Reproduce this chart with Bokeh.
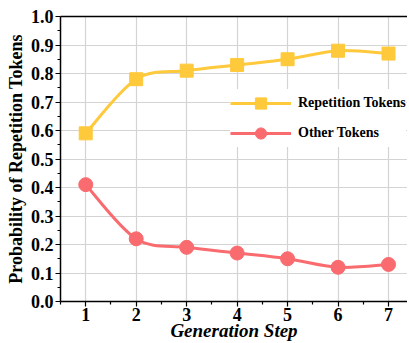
from bokeh.plotting import figure
from bokeh.models import Range1d, LinearAxis, FixedTicker, Legend, LegendItem, CustomJSTickFormatter
from bokeh.embed import file_html
from bokeh.resources import INLINE
import numpy as np

steps = [1, 2, 3, 4, 5, 6, 7]
repetition = [0.59, 0.78, 0.81, 0.83, 0.85, 0.88, 0.87]
other = [0.41, 0.22, 0.19, 0.17, 0.15, 0.12, 0.13]
y_ticks = [0.0, 0.1, 0.2, 0.3, 0.4, 0.5, 0.6, 0.7, 0.8, 0.9, 1.0]

YELLOW = "#FFC93C"
RED = "#F96B6E"
FONT = "Liberation Serif"

p = figure(width=407, height=343, output_backend="svg", toolbar_location=None,
           x_range=Range1d(0.5, 7.376), y_range=Range1d(0, 1.0),
           min_border_left=60, min_border_right=0, min_border_top=16, min_border_bottom=41)
p.outline_line_color = None
p.background_fill_color = "white"
p.border_fill_color = "white"


def smooth_segments(xs, ys):
    x = np.asarray(xs, float)
    y = np.asarray(ys, float)
    xp = np.concatenate([[x[0]], x, [x[-1]]])
    yp = np.concatenate([[y[0]], y, [y[-1]]])
    x0, y0 = x[:-1], y[:-1]
    x1, y1 = x[1:], y[1:]
    cx0 = x0 + (xp[2:-1] - xp[:-3]) / 6.0
    cy0 = y0 + (yp[2:-1] - yp[:-3]) / 6.0
    cx1 = x1 - (xp[3:] - xp[1:-2]) / 6.0
    cy1 = y1 - (yp[3:] - yp[1:-2]) / 6.0
    return dict(x0=x0, y0=y0, x1=x1, y1=y1, cx0=cx0, cy0=cy0, cx1=cx1, cy1=cy1)


rs = smooth_segments(steps, repetition)
os_ = smooth_segments(steps, other)
p.bezier(line_color=YELLOW, line_width=3, **rs)
p.bezier(line_color=RED, line_width=3, **os_)
r_pts = p.scatter(steps, repetition, marker="square", size=13, color=YELLOW)
o_pts = p.scatter(steps, other, marker="circle", size=14, color=RED)

# legend line proxies (single point, draws nothing in the plot)
r_leg_line = p.line([steps[0]], [repetition[0]], line_color=YELLOW, line_width=3)
o_leg_line = p.line([steps[0]], [other[0]], line_color=RED, line_width=3)

legend = Legend(items=[LegendItem(label="Repetition Tokens", renderers=[r_leg_line, r_pts]),
                       LegendItem(label="Other Tokens", renderers=[o_leg_line, o_pts])],
                location=(170, 154))
legend.label_text_font = FONT
legend.label_text_font_style = "bold"
legend.label_text_font_size = "14px"
legend.label_text_color = "black"
legend.glyph_width = 61
legend.glyph_height = 28
legend.spacing = 2
legend.label_standoff = 7
legend.border_line_color = None
legend.background_fill_color = "white"
legend.background_fill_alpha = 1.0
legend.padding = 4
legend.margin = 0
p.add_layout(legend, "center")

p.xaxis.ticker = FixedTicker(ticks=steps, minor_ticks=[x + 0.5 for x in [0] + steps])
p.yaxis.ticker = FixedTicker(ticks=y_ticks, minor_ticks=[v + 0.05 for v in y_ticks[:-1]])
p.yaxis.formatter = CustomJSTickFormatter(code="return tick.toFixed(1);")

for ax in [p.xaxis[0], p.yaxis[0]]:
    ax.axis_line_color = "black"
    ax.axis_line_width = 1.5
    ax.major_tick_line_color = "black"
    ax.minor_tick_line_color = "black"
    ax.major_tick_in = 0
    ax.major_tick_out = 5
    ax.minor_tick_in = 0
    ax.minor_tick_out = 3
    ax.major_tick_line_width = 1.2
    ax.minor_tick_line_width = 1.2
    ax.major_label_text_font = FONT
    ax.major_label_text_font_style = "bold"
    ax.major_label_text_font_size = "18px"
    ax.major_label_text_color = "black"
    ax.axis_label_text_font = FONT
    ax.axis_label_text_color = "black"

p.xaxis.axis_label = "Generation Step"
p.xaxis.axis_label_text_font_style = "bold italic"
p.xaxis.axis_label_text_font_size = "19px"
p.xaxis.axis_label_standoff = -4
p.xaxis.major_label_standoff = 1

p.yaxis.axis_label = "Probability of Repetition Tokens"
p.yaxis.axis_label_text_font_style = "bold"
p.yaxis.axis_label_text_font_size = "18px"
p.yaxis.axis_label_standoff = 2
p.yaxis.major_label_standoff = 2

top = LinearAxis(ticker=FixedTicker(ticks=[]), major_label_text_font_size="0px",
                 axis_line_color="black", axis_line_width=1.5,
                 major_tick_line_color=None, minor_tick_line_color=None)
p.add_layout(top, "above")

p.xgrid.grid_line_color = "#d4d4d4"
p.ygrid.grid_line_color = "#d4d4d4"
p.xgrid.grid_line_width = 1.2
p.ygrid.grid_line_width = 1.2

open("out.html", "w").write(file_html(p, INLINE))
